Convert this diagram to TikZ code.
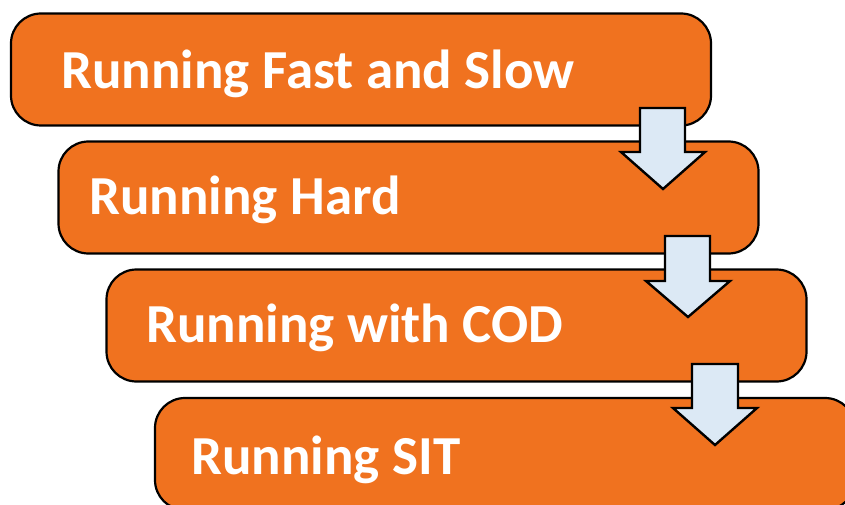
\documentclass[tikz,border=0pt]{standalone}
\usepackage{fontspec}
\setmainfont{Carlito}
\definecolor{boxorange}{HTML}{F0721F}
\definecolor{arrowblue}{HTML}{DCE9F5}
\begin{document}
\begin{tikzpicture}[x=1pt,y=-1pt,
  stagebox/.style={draw=black,line width=2.2pt,fill=boxorange,rounded corners=30pt,
    minimum width=700pt,minimum height=112pt,inner sep=0pt,outer sep=0pt},
  stagetext/.style={anchor=base west,text=white,font=\bfseries\fontsize{55}{64}\selectfont,inner sep=0pt},
  blockarrow/.style={draw=black,line width=2.4pt,fill=arrowblue,line join=miter}]
\useasboundingbox (0,0) rectangle (845,505);
\clip (0,0) rectangle (845,505);
\node[stagebox] (b1) at (361,69.5) {};
\node[stagebox] (b2) at (408.5,197.5) {};
\draw[blockarrow] (640,108) -- (685,108) -- (685,152) -- (705,152) -- (663,189) -- (621,152) -- (640,152) -- cycle;
\node[stagebox] (b3) at (456.5,325.5) {};
\draw[blockarrow] (665,236) -- (710,236) -- (710,281) -- (730,281) -- (688,317) -- (646,281) -- (665,281) -- cycle;
\node[stagebox] (b4) at (505,454) {};
\draw[blockarrow] (692,364) -- (738,364) -- (738,408) -- (757,408) -- (715,445) -- (673,408) -- (692,408) -- cycle;
\node[stagetext] (t1) at (61,89) {Running Fast and Slow};
\node[stagetext] (t2) at (89,214) {Running Hard};
\node[stagetext] (t3) at (146,342) {Running with COD};
\node[stagetext] (t4) at (191,474) {Running SIT};
\end{tikzpicture}
\end{document}
